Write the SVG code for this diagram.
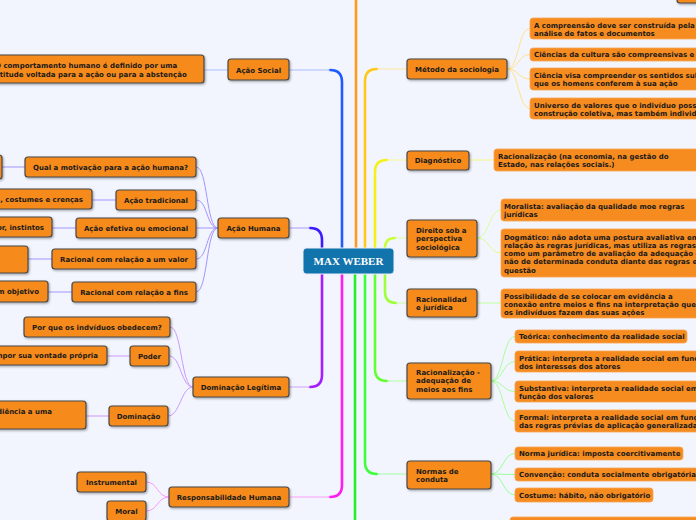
<svg xmlns="http://www.w3.org/2000/svg" width="696" height="520" viewBox="0 0 696 520">
<defs>
<filter id="sh" x="-10%" y="-20%" width="130%" height="160%"><feDropShadow dx="1" dy="1.2" stdDeviation="0.8" flood-color="#000" flood-opacity="0.35"/></filter>
<style>
.n{fill:#f68b1f;stroke:#484848;stroke-width:1.2;filter:url(#sh)}
.l{fill:#f68b1f;stroke:#f7a457;stroke-width:0.8}
.t{font-family:"DejaVu Sans",Verdana,sans-serif;font-weight:bold;font-size:7px;fill:#1a1a1a}
.c{text-anchor:middle}
.e{text-anchor:end}
.tr{fill:none;stroke-width:2.6;stroke-linecap:round}
.k{fill:none;stroke-width:1}
</style>
</defs>
<rect width="696" height="520" fill="#f2f5fe"/>
<g id="connectors">
<!-- trunks -->
<path class="tr" stroke="#1f5bff" d="M342,248 V82 Q342,70 330,70"/>
<path class="k" stroke="#a8bcff" stroke-width="1.5" d="M330,70 H289"/>
<path class="tr" stroke="#3b1cff" d="M322,248 V240 Q322,228 310,228"/>
<path class="k" stroke="#a89cff" stroke-width="1.5" d="M310,228 H289"/>
<path class="tr" stroke="#a61cff" d="M322,274 V375 Q322,387 310,387"/>
<path class="k" stroke="#d2a0ff" stroke-width="1.5" d="M310,387 H289"/>
<path class="tr" stroke="#ff1cf0" d="M342,274 V485 Q342,497 330,497"/>
<path class="k" stroke="#ffa0fa" stroke-width="1.5" d="M330,497 H289"/>
<path class="tr" stroke="#ff9a1c" d="M356,248 V-5"/>
<path class="tr" stroke="#ffc81c" d="M365,248 V81 Q365,69 377,69"/>
<path class="k" stroke="#ffe49a" stroke-width="1.5" d="M377,69 H407"/>
<path class="tr" stroke="#f2f21a" d="M375,248 V172 Q375,160 387,160"/>
<path class="k" stroke="#f8f890" stroke-width="1.5" d="M387,160 H407"/>
<path class="tr" stroke="#c8ff3c" d="M385,248 Q385,238 395,238"/>
<path class="k" stroke="#dcffa0" stroke-width="1.5" d="M395,238 H407"/>
<path class="tr" stroke="#a0ff3c" d="M385,274 V292 Q385,303 396,303"/>
<path class="k" stroke="#c8ffa0" stroke-width="1.5" d="M396,303 H407"/>
<path class="tr" stroke="#64ff32" d="M375,274 V369 Q375,381 387,381"/>
<path class="k" stroke="#b0ffa0" stroke-width="1.5" d="M387,381 H407"/>
<path class="tr" stroke="#3cff3c" d="M365,274 V462 Q365,474 377,474"/>
<path class="k" stroke="#a0ffa0" stroke-width="1.5" d="M377,474 H407"/>
<path class="tr" stroke="#28f028" d="M355,274 V525"/>
<!-- left children -->
<path class="k" stroke="#a8c0ff" d="M204,70 H228"/>
<g stroke="#a294ff">
<path class="k" d="M196,167 C208,167 206,228 218,228"/>
<path class="k" d="M196,200 C208,200 206,228 218,228"/>
<path class="k" d="M196,228 H218"/>
<path class="k" d="M196,259 C208,259 206,228 218,228"/>
<path class="k" d="M196,292 C208,292 206,228 218,228"/>
<path class="k" d="M2,167 H25"/>
<path class="k" d="M92,200 H116"/>
<path class="k" d="M52,228 H76"/>
<path class="k" d="M28,259 H52"/>
<path class="k" d="M48,292 H72"/>
</g>
<g stroke="#cc98ff">
<path class="k" d="M170,327 C182,327 181,387 193,387"/>
<path class="k" d="M169,356 C181,356 181,387 193,387"/>
<path class="k" d="M168,416 C180,416 181,387 193,387"/>
<path class="k" d="M107,356 H130"/>
<path class="k" d="M86,416 H109"/>
</g>
<g stroke="#ff98ff">
<path class="k" d="M146,482 C158,482 157,497 169,497"/>
<path class="k" d="M146,511 C158,511 157,497 169,497"/>
</g>
<!-- right children -->
<g stroke="#ffe28a">
<path class="k" d="M507,69 C519,69 518,28.5 530,28.5"/>
<path class="k" d="M507,69 C519,69 518,54.5 530,54.5"/>
<path class="k" d="M507,69 C519,69 518,79 530,79"/>
<path class="k" d="M507,69 C519,69 518,108.5 530,108.5"/>
</g>
<path class="k" stroke="#f8f880" d="M469,160 H494"/>
<g stroke="#d8ff90">
<path class="k" d="M477,238 C489,238 489,210 501,210"/>
<path class="k" d="M477,238 C489,238 489,253 501,253"/>
</g>
<path class="k" stroke="#c0ff98" d="M477,303 H501"/>
<g stroke="#a8ff98">
<path class="k" d="M491,381 C503,381 503,336.5 515,336.5"/>
<path class="k" d="M491,381 C503,381 503,361.5 515,361.5"/>
<path class="k" d="M491,381 C503,381 503,391.5 515,391.5"/>
<path class="k" d="M491,381 C503,381 503,421 515,421"/>
</g>
<g stroke="#98ff98">
<path class="k" d="M491,474 C503,474 503,453.5 515,453.5"/>
<path class="k" d="M491,474 C503,474 503,474.5 515,474.5"/>
<path class="k" d="M491,474 C503,474 503,495 515,495"/>
</g>
</g>

<g id="center"><rect x="303" y="248" width="91" height="26" rx="3.5" fill="#1274ad" stroke="#e8eef8" stroke-width="1"/><text x="348.5" y="265" text-anchor="middle" font-family="'Liberation Serif','Times New Roman',serif" font-weight="bold" font-size="11" fill="#fff">MAX WEBER</text></g>

<g id="acao-social"><rect class="n" x="228" y="59" width="61" height="21" rx="3"/><text class="t c" x="258.5" y="72.5">Ação Social</text></g>
<g id="acao-social-c1"><rect class="n" x="-20" y="55" width="224" height="28" rx="3"/><text class="t" x="-5" y="67.5">O comportamento humano é definido por uma</text><text class="t" x="-5" y="76.5">atitude voltada para a ação ou para a abstenção</text></g>

<g id="acao-humana"><rect class="n" x="218" y="218" width="71" height="20" rx="3"/><text class="t c" x="253.5" y="230.5">Ação Humana</text></g>
<g id="ah-c1"><rect class="n" x="25" y="157" width="171" height="20" rx="3"/><text class="t c" x="110.5" y="169.5">Qual a motivação para a ação humana?</text></g>
<g id="ah-c1-g"><rect class="n" x="-40" y="155" width="42" height="24" rx="3"/></g>
<g id="ah-c2"><rect class="n" x="116" y="190" width="80" height="20" rx="3"/><text class="t c" x="156" y="202.5">Ação tradicional</text></g>
<g id="ah-c2-g"><rect class="n" x="-60" y="189" width="152" height="20" rx="3"/><text class="t e" x="83" y="201.5">Hábitos, costumes e crenças</text></g>
<g id="ah-c3"><rect class="n" x="76" y="218" width="120" height="20" rx="3"/><text class="t c" x="136" y="230.5">Ação efetiva ou emocional</text></g>
<g id="ah-c3-g"><rect class="n" x="-60" y="217" width="112" height="20" rx="3"/><text class="t e" x="44" y="229.5">Humor, instintos</text></g>
<g id="ah-c4"><rect class="n" x="52" y="249" width="144" height="20" rx="3"/><text class="t c" x="124" y="261.5">Racional com relação a um valor</text></g>
<g id="ah-c4-g"><rect class="n" x="-60" y="246" width="88" height="27" rx="3"/></g>
<g id="ah-c5"><rect class="n" x="72" y="282" width="124" height="20" rx="3"/><text class="t c" x="134" y="294.5">Racional com relação a fins</text></g>
<g id="ah-c5-g"><rect class="n" x="-60" y="281" width="108" height="21" rx="3"/><text class="t e" x="39" y="294">Para alcançar um objetivo</text></g>

<g id="dominacao-legitima"><rect class="n" x="193" y="377" width="96" height="20" rx="3"/><text class="t c" x="241" y="389.5">Dominação Legítima</text></g>
<g id="dl-c1"><rect class="n" x="24" y="317" width="146" height="20" rx="3"/><text class="t c" x="97" y="329.5">Por que os indvíduos obedecem?</text></g>
<g id="dl-c2"><rect class="n" x="130" y="346" width="39" height="20" rx="3"/><text class="t c" x="149.5" y="358.5">Poder</text></g>
<g id="dl-c2-g"><rect class="n" x="-60" y="346" width="167" height="19" rx="3"/><text class="t e" x="98" y="358">Capacidade de impor sua vontade própria</text></g>
<g id="dl-c3"><rect class="n" x="109" y="406" width="59" height="20" rx="3"/><text class="t c" x="138.5" y="418.5">Dominação</text></g>
<g id="dl-c3-g"><rect class="n" x="-60" y="401" width="146" height="28" rx="3"/><text class="t e" x="52" y="414">Probabilidade de obediência a uma</text></g>

<g id="responsabilidade"><rect class="n" x="169" y="487" width="120" height="20" rx="3"/><text class="t c" x="229" y="499.5">Responsabilidade Humana</text></g>
<g id="rh-c1"><rect class="n" x="77" y="472" width="69" height="20" rx="3"/><text class="t c" x="111.5" y="484.5">Instrumental</text></g>
<g id="rh-c2"><rect class="n" x="107" y="501" width="39" height="20" rx="3"/><text class="t c" x="126.5" y="513.5">Moral</text></g>

<g id="top-partial"><rect class="n" x="677" y="-20" width="40" height="23" rx="3"/></g>

<g id="metodo"><rect class="n" x="407" y="59" width="100" height="20" rx="3"/><text class="t c" x="457" y="71.5">Método da sociologia</text></g>
<g id="m-c1"><rect class="l" x="530" y="18" width="200" height="21" rx="3"/><text class="t" x="534" y="27.5">A compreensão deve ser construída pela</text><text class="t" x="534" y="35.5">análise de fatos e documentos</text></g>
<g id="m-c2"><rect class="l" x="530" y="48" width="200" height="13" rx="3"/><text class="t" x="534" y="56.5">Ciências da cultura são compreensivas e não explicativas</text></g>
<g id="m-c3"><rect class="l" x="530" y="68" width="200" height="22" rx="3"/><text class="t" x="534" y="77.5">Ciência visa compreender os sentidos subjetivos</text><text class="t" x="534" y="86">que os homens conferem à sua ação</text></g>
<g id="m-c4"><rect class="l" x="530" y="98" width="200" height="21" rx="3"/><text class="t" x="534" y="107.5">Universo de valores que o indivíduo possui é uma</text><text class="t" x="534" y="115.5">construção coletiva, mas também individual</text></g>

<g id="diagnostico"><rect class="n" x="407" y="151" width="62" height="19" rx="3"/><text class="t c" x="438" y="163">Diagnóstico</text></g>
<g id="d-c1"><rect class="l" x="494" y="149" width="220" height="22" rx="3"/><text class="t" x="498" y="158.5">Racionalização (na economia, na gestão do</text><text class="t" x="498" y="166.5">Estado, nas relações sociais.)</text></g>

<g id="direito"><rect class="n" x="407" y="220" width="70" height="37" rx="3"/><text class="t" x="416" y="232.5">Direito sob a</text><text class="t" x="416" y="241">perspectiva</text><text class="t" x="416" y="249.5">sociológica</text></g>
<g id="di-c1"><rect class="l" x="501" y="199" width="220" height="22" rx="3"/><text class="t" x="504" y="208.5">Moralista: avaliação da qualidade moe regras</text><text class="t" x="504" y="217">jurídicas</text></g>
<g id="di-c2"><rect class="l" x="501" y="229" width="220" height="48" rx="3"/><text class="t" x="504" y="239.5">Dogmático: não adota uma postura avaliativa em</text><text class="t" x="504" y="247.5">relação às regras jurídicas, mas utiliza as regras</text><text class="t" x="504" y="255.5">como um parâmetro de avaliação da adequação ou</text><text class="t" x="504" y="264">não de determinada conduta diante das regras em</text><text class="t" x="504" y="272.5">questão</text></g>

<g id="racionalidade"><rect class="n" x="407" y="289" width="70" height="28" rx="3"/><text class="t" x="416" y="301.5">Racionalidad</text><text class="t" x="416" y="310">e jurídica</text></g>
<g id="ra-c1"><rect class="l" x="501" y="289" width="220" height="29" rx="3"/><text class="t" x="504" y="298.5">Possibilidade de se colocar em evidência a</text><text class="t" x="504" y="306.5">conexão entre meios e fins na interpretação que</text><text class="t" x="504" y="315">os indivíduos fazem das suas ações</text></g>

<g id="racionalizacao"><rect class="n" x="407" y="363" width="84" height="36" rx="3"/><text class="t" x="416" y="374.5">Racionalização -</text><text class="t" x="416" y="383">adequação de</text><text class="t" x="416" y="391.5">meios aos fins</text></g>
<g id="rz-c1"><rect class="l" x="515" y="330" width="172" height="13" rx="3"/><text class="t" x="519" y="339">Teórica: conhecimento da realidade social</text></g>
<g id="rz-c2"><rect class="l" x="515" y="351" width="200" height="21" rx="3"/><text class="t" x="519" y="360.5">Prática: interpreta a realidade social em função</text><text class="t" x="519" y="368.5">dos interesses dos atores</text></g>
<g id="rz-c3"><rect class="l" x="515" y="381" width="200" height="21" rx="3"/><text class="t" x="519" y="390.5">Substantiva: interpreta a realidade social em</text><text class="t" x="519" y="398.5">função dos valores</text></g>
<g id="rz-c4"><rect class="l" x="515" y="410" width="200" height="22" rx="3"/><text class="t" x="519" y="419.5">Formal: interpreta a realidade social em função</text><text class="t" x="519" y="428">das regras prévias de aplicação generalizada</text></g>

<g id="normas"><rect class="n" x="407" y="461" width="84" height="28" rx="3"/><text class="t" x="416" y="473.5">Normas de</text><text class="t" x="416" y="482">conduta</text></g>
<g id="no-c1"><rect class="l" x="515" y="447" width="168" height="13" rx="3"/><text class="t" x="519" y="456">Norma jurídica: imposta coercitivamente</text></g>
<g id="no-c2"><rect class="l" x="515" y="468" width="200" height="13" rx="3"/><text class="t" x="519" y="477">Convenção: conduta socialmente obrigatória</text></g>
<g id="no-c3"><rect class="l" x="515" y="488" width="138" height="14" rx="3"/><text class="t" x="519" y="497.5">Costume: hábito, não obrigatório</text></g>

<g id="bottom-partial"><rect class="l" x="510" y="517" width="200" height="20" rx="3"/></g>
</svg>
